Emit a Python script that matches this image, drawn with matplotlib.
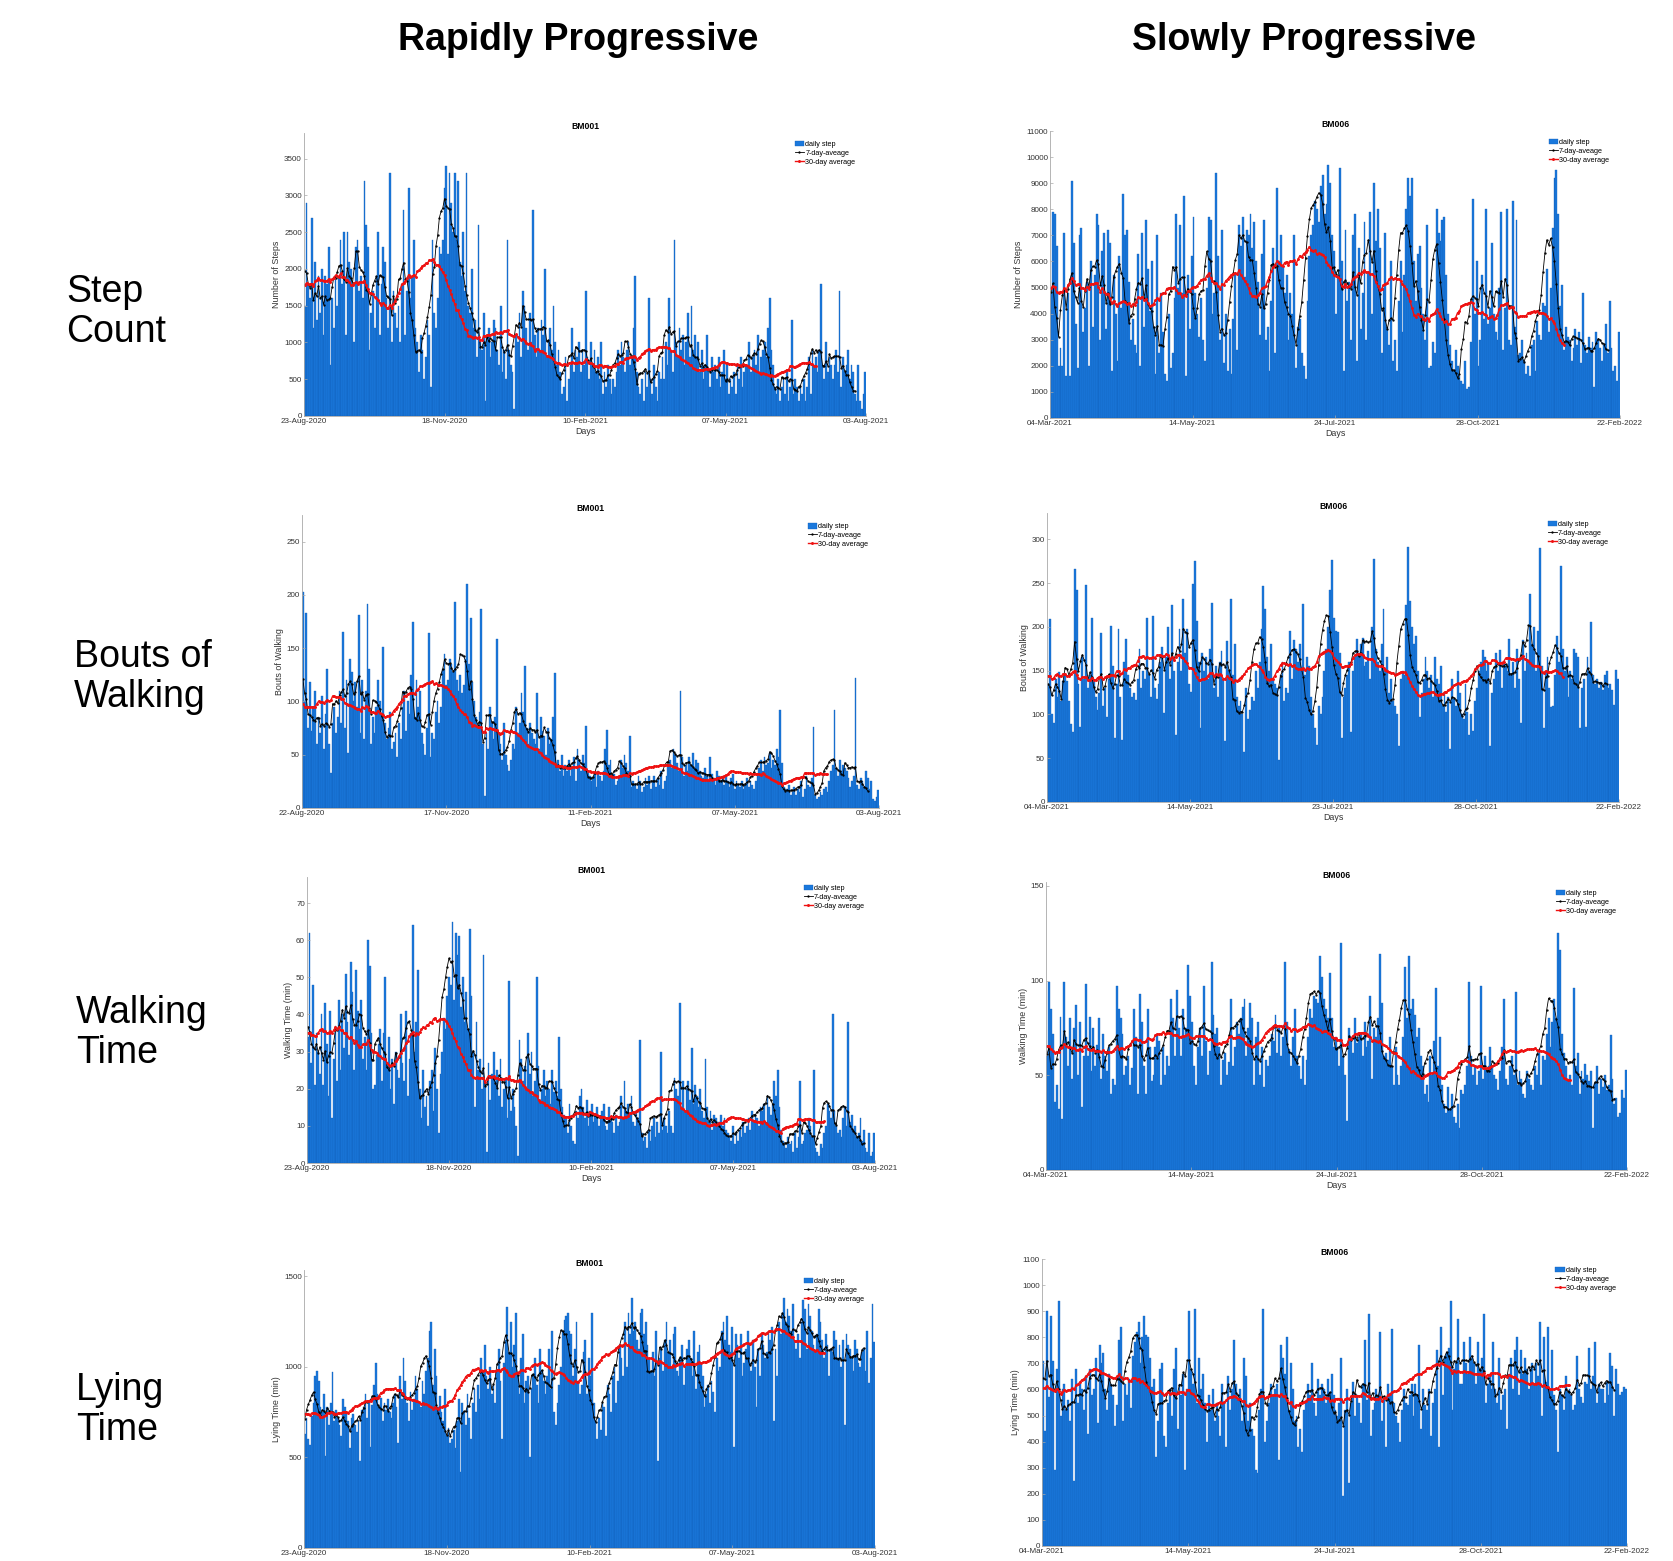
import numpy as np
import matplotlib
matplotlib.use("Agg")
import matplotlib.pyplot as plt

plt.rcParams['font.family'] = ['Liberation Sans', 'DejaVu Sans']

COL_TITLES = ["Rapidly Progressive", "Slowly Progressive"]
ROW_LABELS = ["Step\nCount", "Bouts of\nWalking", "Walking\nTime", "Lying\nTime"]
Y_LABELS = ["Number of Steps", "Bouts of Walking", "Walking Time (min)", "Lying Time (min)"]
PATIENTS = ["BM001", "BM006"]
LEGEND_LABELS = ["daily step", "7-day-aveage", "30-day average"]

DATES_BM001_A = ["23-Aug-2020", "18-Nov-2020", "10-Feb-2021", "07-May-2021", "03-Aug-2021"]
DATES_BM001_B = ["22-Aug-2020", "17-Nov-2020", "11-Feb-2021", "07-May-2021", "03-Aug-2021"]
DATES_BM006_A = ["04-Mar-2021", "14-May-2021", "24-Jul-2021", "28-Oct-2021", "22-Feb-2022"]
DATES_BM006_B = ["04-Mar-2021", "14-May-2021", "23-Jul-2021", "28-Oct-2021", "22-Feb-2022"]

# daily values (steps in hundreds, lying time in tens of minutes)
bm001_steps_x100 = [
    15, 29, 18, 16, 27, 12, 21, 13, 19, 14,
    20, 11, 19, 18, 23, 7, 16, 12, 19, 15,
    19, 24, 18, 25, 11, 25, 21, 20, 18, 10,
    23, 24, 17, 19, 16, 32, 26, 23, 9, 14,
    17, 12, 19, 25, 11, 18, 23, 21, 16, 12,
    33, 10, 17, 14, 12, 15, 10, 18, 28, 11,
    17, 31, 16, 19, 24, 12, 10, 6, 11, 9,
    5, 8, 13, 11, 4, 24, 14, 12, 16, 23,
    22, 24, 31, 34, 22, 33, 29, 25, 33, 24,
    32, 21, 19, 25, 17, 33, 15, 14, 20, 12,
    13, 8, 26, 10, 9, 14, 2, 11, 12, 8,
    10, 13, 12, 9, 7, 15, 6, 9, 5, 24,
    9, 7, 6, 1, 11, 10, 14, 8, 17, 15,
    12, 9, 14, 10, 28, 11, 8, 12, 9, 13,
    11, 20, 8, 10, 12, 9, 15, 10, 7, 9,
    6, 3, 4, 8, 2, 5, 7, 12, 6, 9,
    8, 10, 6, 9, 7, 17, 8, 5, 10, 7,
    9, 6, 8, 5, 10, 3, 6, 4, 7, 5,
    3, 5, 4, 6, 9, 7, 10, 8, 6, 9,
    10, 7, 8, 12, 19, 6, 4, 3, 5, 2,
    6, 4, 16, 5, 3, 7, 4, 2, 6, 5,
    8, 5, 10, 7, 16, 9, 6, 24, 10, 8,
    12, 9, 11, 7, 10, 14, 8, 15, 9, 11,
    8, 10, 6, 9, 5, 7, 11, 6, 4, 8,
    6, 7, 5, 8, 4, 6, 9, 5, 7, 3,
    5, 4, 6, 3, 7, 5, 8, 4, 6, 7,
    7, 10, 6, 8, 9, 7, 11, 6, 8, 9,
    10, 8, 12, 16, 9, 7, 4, 3, 5, 2,
    4, 5, 3, 6, 2, 4, 13, 3, 5, 4,
    2, 4, 3, 5, 2, 4, 8, 3, 9, 7,
    8, 6, 9, 18, 7, 5, 10, 6, 8, 7,
    5, 7, 9, 6, 17, 4, 8, 6, 7, 9,
    5, 7, 6, 3, 2, 7, 2, 1, 3, 6,
]

bm006_steps_x100 = [
    48, 79, 78, 66, 20, 27, 20, 71, 16, 48,
    16, 91, 67, 36, 19, 70, 73, 33, 42, 52,
    20, 60, 35, 55, 78, 74, 30, 64, 71, 34,
    72, 67, 18, 55, 40, 22, 62, 42, 86, 70,
    72, 52, 30, 38, 28, 25, 63, 20, 71, 35,
    76, 57, 41, 60, 35, 17, 70, 25, 48, 33,
    17, 14, 40, 19, 25, 46, 78, 50, 74, 48,
    85, 16, 55, 34, 62, 77, 48, 40, 31, 46,
    30, 22, 50, 77, 76, 40, 48, 94, 62, 30,
    72, 21, 40, 18, 34, 17, 38, 55, 26, 74,
    66, 77, 54, 72, 70, 78, 65, 75, 60, 52,
    32, 63, 76, 30, 35, 18, 45, 65, 25, 88,
    60, 70, 58, 48, 55, 30, 48, 40, 70, 19,
    35, 38, 25, 20, 15, 45, 62, 70, 74, 83,
    80, 75, 89, 93, 78, 82, 97, 90, 70, 64,
    40, 55, 96, 60, 18, 72, 45, 52, 30, 70,
    78, 22, 65, 34, 48, 75, 30, 56, 79, 40,
    90, 68, 80, 65, 25, 50, 71, 35, 28, 60,
    22, 30, 18, 45, 60, 33, 55, 80, 92, 85,
    92, 60, 45, 63, 66, 50, 40, 30, 74, 19,
    20, 29, 25, 80, 71, 68, 76, 77, 55, 40,
    28, 22, 18, 26, 20, 16, 14, 13, 22, 11,
    12, 29, 84, 40, 60, 20, 30, 55, 38, 80,
    36, 42, 67, 40, 33, 30, 50, 79, 26, 42,
    80, 30, 28, 83, 35, 76, 24, 25, 30, 22,
    17, 20, 16, 28, 30, 18, 37, 32, 30, 44,
    43, 57, 33, 50, 73, 92, 95, 78, 43, 51,
    26, 35, 31, 30, 22, 27, 34, 28, 33, 21,
    48, 28, 25, 31, 27, 29, 12, 33, 30, 27,
    22, 28, 36, 25, 45, 27, 18, 20, 14, 33,
]

bm001_bouts = [
    203, 100, 183, 75, 118, 72, 95, 110, 60, 85,
    70, 105, 55, 88, 130, 60, 33, 80, 95, 70,
    85, 110, 80, 165, 75, 120, 52, 140, 128, 100,
    118, 95, 181, 70, 120, 65, 110, 191, 130, 60,
    85, 70, 95, 120, 100, 88, 151, 80, 65, 75,
    90, 55, 62, 70, 48, 80, 65, 95, 110, 72,
    100, 88, 125, 175, 85, 120, 95, 110, 70, 60,
    50, 75, 164, 48, 70, 65, 90, 100, 80, 95,
    130, 145, 115, 120, 140, 135, 128, 193, 120, 110,
    125, 108, 115, 140, 210, 135, 178, 118, 100, 85,
    75, 90, 187, 60, 11, 70, 55, 95, 80, 65,
    85, 159, 70, 60, 45, 80, 50, 40, 35, 45,
    60, 55, 95, 70, 80, 108, 90, 133, 75, 60,
    80, 70, 65, 60, 108, 55, 85, 72, 68, 50,
    75, 60, 65, 85, 127, 40, 45, 35, 50, 30,
    40, 35, 45, 30, 38, 48, 25, 55, 45, 35,
    50, 42, 77, 35, 30, 25, 28, 32, 20, 35,
    30, 25, 35, 55, 73, 40, 45, 28, 32, 22,
    25, 30, 45, 38, 50, 42, 35, 68, 20, 25,
    22, 18, 30, 25, 15, 20, 28, 22, 30, 18,
    25, 30, 20, 28, 22, 35, 18, 25, 30, 40,
    45, 38, 55, 50, 42, 35, 110, 48, 30, 40,
    35, 48, 40, 52, 38, 45, 42, 35, 30, 28,
    38, 30, 25, 48, 32, 28, 22, 35, 30, 25,
    28, 22, 30, 25, 20, 28, 32, 18, 25, 22,
    20, 25, 18, 22, 28, 20, 25, 22, 18, 25,
    30, 38, 45, 35, 48, 40, 42, 52, 38, 45,
    40, 55, 48, 92, 42, 20, 15, 18, 22, 12,
    15, 20, 12, 18, 15, 25, 10, 18, 30, 22,
    20, 28, 76, 12, 8, 10, 15, 12, 18, 20,
    15, 25, 35, 40, 92, 38, 30, 45, 35, 40,
    38, 35, 28, 20, 25, 30, 122, 22, 18, 28,
    25, 20, 35, 28, 18, 25, 8, 7, 10, 17,
]

bm006_bouts = [
    135, 209, 101, 90, 140, 120, 148, 115, 138, 145,
    138, 115, 89, 80, 266, 242, 135, 86, 165, 140,
    248, 130, 145, 210, 140, 120, 105, 125, 193, 110,
    130, 97, 140, 201, 155, 73, 135, 197, 120, 71,
    160, 186, 145, 130, 120, 125, 116, 140, 175, 130,
    150, 140, 210, 145, 120, 212, 130, 118, 135, 160,
    177, 102, 165, 200, 140, 225, 150, 76, 160, 197,
    150, 232, 170, 198, 135, 126, 249, 275, 207, 160,
    85, 170, 150, 165, 140, 175, 227, 130, 155, 120,
    160, 172, 140, 70, 184, 150, 232, 145, 180, 120,
    110, 115, 100, 57, 130, 95, 105, 120, 115, 150,
    130, 160, 198, 247, 220, 165, 150, 180, 140, 135,
    130, 48, 145, 160, 115, 130, 125, 195, 140, 185,
    175, 160, 180, 150, 226, 145, 165, 155, 120, 100,
    85, 65, 110, 100, 120, 150, 175, 200, 242, 276,
    210, 195, 194, 170, 73, 120, 130, 145, 160, 80,
    150, 165, 186, 170, 180, 187, 155, 160, 172, 140,
    200, 278, 175, 160, 150, 180, 220, 150, 165, 125,
    140, 115, 110, 100, 64, 140, 150, 145, 225, 291,
    230, 200, 180, 190, 150, 97, 125, 140, 165, 150,
    130, 145, 120, 165, 140, 135, 155, 110, 125, 103,
    120, 60, 140, 118, 110, 150, 125, 100, 95, 135,
    103, 76, 100, 81, 115, 130, 150, 160, 174, 165,
    150, 160, 64, 125, 140, 170, 150, 173, 130, 160,
    155, 150, 186, 145, 160, 130, 175, 140, 90, 185,
    150, 170, 160, 237, 180, 200, 150, 195, 290, 155,
    85, 150, 165, 130, 108, 110, 145, 190, 160, 270,
    175, 150, 165, 120, 150, 140, 175, 170, 165, 85,
    130, 140, 86, 165, 150, 205, 145, 135, 140, 130,
    137, 128, 145, 150, 130, 135, 128, 111, 151, 140,
]

bm001_walk_min = [
    34, 62, 27, 48, 21, 35, 30, 24, 40, 21,
    43, 32, 18, 41, 12, 28, 37, 22, 44, 25,
    40, 31, 51, 38, 29, 54, 46, 25, 52, 41,
    36, 44, 28, 34, 25, 60, 53, 35, 20, 21,
    29, 32, 36, 22, 35, 50, 27, 34, 20, 28,
    16, 30, 25, 23, 40, 27, 22, 41, 18, 28,
    35, 64, 30, 38, 52, 20, 12, 25, 15, 18,
    10, 22, 25, 14, 31, 20, 8, 24, 30, 39,
    36, 45, 50, 48, 65, 44, 62, 56, 61, 42,
    50, 38, 46, 36, 63, 45, 30, 15, 38, 25,
    28, 20, 56, 22, 3, 27, 17, 24, 30, 22,
    25, 18, 28, 15, 20, 23, 12, 49, 14, 20,
    15, 10, 2, 33, 28, 22, 26, 20, 35, 24,
    30, 18, 22, 50, 26, 17, 20, 25, 18, 22,
    20, 16, 25, 19, 22, 18, 34, 20, 15, 13,
    12, 8, 16, 10, 6, 5, 14, 12, 18, 20,
    15, 12, 17, 10, 14, 16, 11, 13, 15, 10,
    12, 14, 16, 10, 9, 15, 12, 11, 8, 13,
    10, 11, 18, 12, 22, 14, 16, 13, 18, 11,
    10, 14, 12, 33, 8, 6, 7, 4, 9, 6,
    10, 12, 7, 11, 8, 30, 9, 12, 10, 8,
    14, 10, 8, 23, 20, 18, 43, 15, 22, 14,
    20, 22, 17, 31, 16, 21, 18, 15, 20, 14,
    12, 28, 15, 11, 14, 9, 13, 12, 10, 11,
    13, 10, 12, 9, 8, 7, 6, 10, 5, 8,
    6, 9, 7, 11, 8, 10, 12, 9, 14, 11,
    13, 12, 10, 15, 14, 16, 11, 18, 15, 13,
    16, 22, 18, 25, 15, 9, 6, 5, 4, 7,
    5, 6, 3, 8, 4, 7, 22, 5, 6, 8,
    9, 12, 10, 7, 25, 4, 3, 2, 5, 4,
    8, 10, 16, 14, 12, 40, 14, 10, 8, 9,
    7, 12, 15, 10, 38, 11, 13, 9, 10, 7,
    8, 12, 6, 9, 4, 3, 8, 2, 3, 8,
]

bm006_walk_min = [
    60, 99, 85, 72, 36, 45, 32, 81, 27, 99,
    70, 55, 80, 48, 75, 87, 50, 78, 33, 60,
    98, 60, 81, 52, 75, 55, 66, 80, 48, 72,
    60, 52, 65, 40, 48, 45, 97, 85, 80, 72,
    50, 55, 60, 45, 54, 85, 70, 40, 93, 78,
    55, 40, 85, 65, 47, 50, 65, 72, 68, 45,
    65, 50, 60, 55, 90, 80, 60, 95, 75, 60,
    85, 70, 75, 108, 92, 78, 55, 45, 65, 75,
    60, 97, 68, 50, 63, 110, 82, 72, 75, 65,
    45, 58, 62, 50, 57, 90, 55, 65, 78, 72,
    80, 86, 90, 60, 75, 88, 80, 45, 70, 78,
    50, 65, 44, 58, 55, 60, 72, 68, 82, 62,
    75, 60, 70, 110, 78, 64, 55, 70, 85, 60,
    55, 48, 60, 45, 58, 70, 85, 80, 92, 90,
    88, 113, 102, 90, 85, 80, 104, 80, 65, 70,
    65, 55, 120, 60, 50, 26, 75, 70, 62, 80,
    67, 70, 72, 60, 78, 65, 68, 92, 48, 75,
    70, 80, 114, 88, 60, 62, 58, 70, 55, 45,
    65, 50, 45, 55, 70, 107, 80, 113, 85, 90,
    82, 70, 75, 60, 55, 40, 45, 36, 60, 50,
    68, 96, 55, 70, 45, 35, 30, 44, 32, 40,
    28, 25, 35, 22, 42, 40, 45, 55, 99, 60,
    50, 55, 45, 52, 97, 48, 60, 52, 55, 65,
    55, 50, 48, 42, 52, 65, 90, 48, 45, 55,
    60, 50, 94, 45, 52, 48, 40, 38, 52, 48,
    45, 42, 55, 50, 62, 45, 60, 58, 72, 80,
    65, 78, 90, 80, 125, 116, 72, 62, 55, 48,
    50, 45, 96, 55, 62, 40, 52, 48, 56, 50,
    47, 52, 22, 46, 55, 40, 48, 44, 50, 42,
    45, 71, 48, 35, 38, 28, 30, 42, 38, 53,
]

bm001_lying_x10 = [
    63, 72, 60, 57, 73, 80, 95, 98, 92, 78,
    75, 85, 51, 78, 68, 80, 97, 70, 76, 72,
    68, 62, 82, 78, 75, 70, 55, 72, 74, 68,
    64, 70, 48, 76, 78, 85, 72, 80, 56, 79,
    90, 102, 85, 78, 83, 70, 80, 76, 82, 75,
    72, 80, 85, 78, 58, 95, 82, 105, 92, 80,
    70, 86, 76, 82, 95, 88, 80, 78, 92, 85,
    98, 105, 120, 125, 90, 110, 95, 78, 84, 75,
    70, 88, 62, 66, 58, 60, 65, 55, 70, 82,
    42, 80, 75, 68, 85, 72, 60, 80, 88, 75,
    90, 82, 105, 98, 112, 95, 88, 100, 85, 90,
    80, 98, 110, 92, 60, 102, 115, 133, 108, 125,
    100, 112, 130, 95, 85, 105, 118, 80, 92, 95,
    50, 88, 96, 105, 90, 80, 110, 98, 92, 85,
    95, 110, 88, 120, 75, 68, 80, 90, 100, 120,
    126, 128, 130, 120, 118, 95, 110, 125, 92, 85,
    90, 108, 115, 85, 105, 95, 130, 80, 70, 60,
    72, 65, 80, 78, 62, 90, 85, 75, 95, 100,
    80, 92, 112, 105, 95, 125, 100, 130, 118, 138,
    120, 125, 115, 110, 130, 132, 118, 125, 112, 105,
    98, 108, 95, 120, 48, 105, 110, 98, 115, 125,
    108, 115, 100, 118, 122, 98, 95, 105, 112, 90,
    100, 110, 115, 105, 95, 120, 88, 108, 112, 102,
    95, 78, 85, 90, 80, 92, 86, 75, 105, 98,
    100, 120, 125, 115, 128, 112, 108, 122, 56, 118,
    112, 105, 118, 95, 102, 110, 120, 112, 98, 115,
    100, 78, 110, 95, 118, 112, 105, 108, 120, 115,
    122, 70, 110, 95, 125, 118, 130, 138, 125, 132,
    128, 120, 135, 115, 110, 118, 105, 125, 137, 132,
    110, 135, 128, 120, 112, 108, 118, 132, 125, 115,
    105, 118, 112, 95, 110, 108, 120, 115, 105, 112,
    100, 115, 68, 118, 112, 110, 105, 98, 115, 110,
    102, 100, 108, 110, 98, 120, 91, 105, 135, 114,
]

bm006_lying_x10 = [
    71, 44, 90, 57, 88, 71, 29, 68, 94, 50,
    60, 62, 52, 56, 48, 64, 25, 68, 55, 62,
    60, 52, 65, 43, 68, 58, 60, 72, 47, 77,
    70, 74, 60, 52, 66, 62, 58, 46, 54, 79,
    84, 48, 62, 58, 64, 53, 73, 78, 82, 86,
    70, 80, 88, 81, 80, 72, 61, 64, 34, 48,
    68, 70, 42, 38, 55, 60, 50, 68, 76, 45,
    62, 58, 66, 29, 60, 90, 68, 62, 91, 55,
    72, 60, 66, 55, 40, 58, 52, 60, 48, 55,
    50, 42, 62, 55, 38, 65, 52, 60, 79, 62,
    56, 60, 48, 72, 65, 48, 55, 45, 42, 29,
    28, 52, 60, 91, 40, 48, 55, 62, 58, 60,
    62, 33, 77, 72, 66, 80, 52, 70, 60, 48,
    50, 38, 45, 36, 52, 55, 62, 58, 70, 55,
    50, 64, 58, 62, 60, 55, 64, 59, 66, 58,
    52, 50, 55, 72, 19, 52, 60, 24, 55, 63,
    50, 58, 55, 47, 62, 79, 56, 89, 42, 52,
    55, 60, 58, 82, 48, 56, 38, 62, 58, 83,
    55, 50, 47, 40, 52, 60, 55, 54, 58, 62,
    50, 62, 58, 77, 45, 60, 54, 52, 60, 42,
    55, 60, 75, 38, 84, 58, 73, 74, 76, 94,
    52, 68, 70, 87, 62, 62, 78, 70, 66, 80,
    72, 70, 62, 78, 68, 72, 89, 55, 62, 65,
    60, 78, 60, 55, 72, 52, 58, 60, 45, 66,
    72, 60, 75, 80, 58, 75, 66, 72, 68, 60,
    68, 70, 62, 70, 65, 86, 50, 80, 63, 84,
    60, 75, 58, 52, 36, 60, 58, 52, 65, 59,
    60, 58, 52, 54, 73, 60, 57, 55, 63, 62,
    76, 60, 65, 78, 55, 62, 60, 60, 55, 63,
    58, 74, 69, 50, 68, 62, 58, 59, 61, 60,
]

W, H = 1673, 1561
BAR_BLUE = "#1a78dc"
BAR_EDGE = "#0f5cb4"


def fwd_mean(v, w):
    # average over the next w days, plotted at the window start
    return np.convolve(v, np.ones(w) / w, mode="valid")


def draw_panel(rect, values, title, ylabel, dates, ylim, yticks, xlabel=True):
    x0, y0, x1, y1 = rect
    ax = fig.add_axes([x0 / W, 1 - y1 / H, (x1 - x0) / W, (y1 - y0) / H])
    v = np.asarray(values, dtype=float)
    n = len(v)
    idx = np.arange(n)
    bars = ax.bar(idx, v, width=1.0, color=BAR_BLUE, edgecolor=BAR_EDGE, linewidth=0.25)
    a7 = fwd_mean(v, 7)
    a30 = fwd_mean(v, 30)
    l7, = ax.plot(np.arange(len(a7)), a7, color="black", lw=0.6,
                  marker=".", ms=1.3)
    l30, = ax.plot(np.arange(len(a30)), a30, color="#ee1111", lw=1.0,
                   marker=".", ms=2.2)
    ax.set_xlim(-0.5, n - 0.5)
    ax.set_ylim(*ylim)
    ax.set_yticks(yticks)
    ax.set_xticks(np.linspace(-0.5, n - 0.5, len(dates)))
    ax.set_xticklabels(dates)
    for s in ("top", "right"):
        ax.spines[s].set_visible(False)
    for s in ("left", "bottom"):
        ax.spines[s].set_color("#a8a8a8")
        ax.spines[s].set_linewidth(0.6)
    ax.tick_params(direction="in", length=2.5, width=0.5, color="#a8a8a8",
                   labelsize=5.8, labelcolor="#333333", pad=1.5)
    ax.set_title(title, fontsize=6.2, fontweight="bold", pad=3)
    ax.set_ylabel(ylabel, fontsize=6.4, color="#333333", labelpad=2)
    if xlabel:
        ax.set_xlabel("Days", fontsize=6.4, color="#333333", labelpad=1.5)
    ax.legend([bars, l7, l30], LEGEND_LABELS, loc="upper right", frameon=False,
              fontsize=5.2, handlelength=1.3, handleheight=0.8, handletextpad=0.15,
              labelspacing=0.2, borderaxespad=0.3, bbox_to_anchor=(0.99, 0.99))
    return ax


fig = plt.figure(figsize=(W / 100, H / 100), dpi=100)

panels = [
    ((304, 133, 866, 416), bm001_steps_x100, 100, PATIENTS[0], Y_LABELS[0], DATES_BM001_A,
     (0, 3850), np.arange(0, 3501, 500)),
    ((1050, 131, 1620, 418), bm006_steps_x100, 100, PATIENTS[1], Y_LABELS[0], DATES_BM006_A,
     (0, 11000), np.arange(0, 11001, 1000)),
    ((302, 515, 879, 808), bm001_bouts, 1, PATIENTS[0], Y_LABELS[1], DATES_BM001_B,
     (0, 275), np.arange(0, 251, 50)),
    ((1047, 513, 1619, 802), bm006_bouts, 1, PATIENTS[1], Y_LABELS[1], DATES_BM006_B,
     (0, 330), np.arange(0, 301, 50)),
    ((307, 877, 875, 1163), bm001_walk_min, 1, PATIENTS[0], Y_LABELS[2], DATES_BM001_A,
     (0, 77), np.arange(0, 71, 10)),
    ((1046, 882, 1627, 1170), bm006_walk_min, 1, PATIENTS[1], Y_LABELS[2], DATES_BM006_A,
     (0, 152), np.arange(0, 151, 50)),
    ((304, 1270, 875, 1548), bm001_lying_x10, 10, PATIENTS[0], Y_LABELS[3], DATES_BM001_A,
     (0, 1535), np.arange(0, 1501, 500)),
    ((1042, 1259, 1627, 1546), bm006_lying_x10, 10, PATIENTS[1], Y_LABELS[3], DATES_BM006_A,
     (0, 1100), np.arange(0, 1101, 100)),
]

for i, (rect, vals, scale, title, ylab, dates, ylim, yticks) in enumerate(panels):
    # the bottom row's "Days" label falls below the page in the source figure
    draw_panel(rect, np.asarray(vals) * scale, title, ylab, dates, ylim, yticks,
               xlabel=i < 6)

# column headers and row labels
for x, t in zip((578, 1304), COL_TITLES):
    fig.text(x / W, 1 - 40 / H, t, ha="center", va="center", fontsize=27,
             fontweight="bold")
for (x, y), t in zip([(66, 312), (74, 677), (76, 1033), (76, 1410)], ROW_LABELS):
    fig.text(x / W, 1 - y / H, t, ha="left", va="center", fontsize=27,
             linespacing=1.15)

fig.savefig("out.png", dpi=100)
